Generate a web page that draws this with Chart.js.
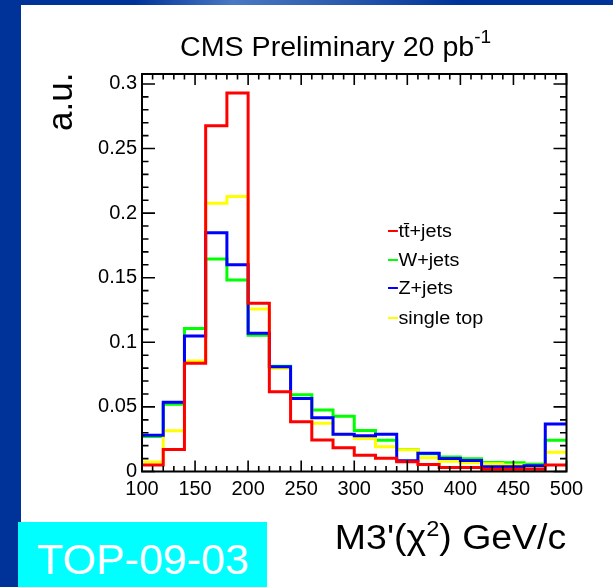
<!DOCTYPE html>
<html><head><meta charset="utf-8">
<script src="https://cdn.jsdelivr.net/npm/chart.js@4"></script>
<style>
html,body{margin:0;padding:0;background:#fff;}
#wrap{position:relative;width:613px;height:587px;overflow:hidden;background:#fff;font-family:"Liberation Sans",Arial,Helvetica,sans-serif;color:#000;}
#lbar{position:absolute;left:0;top:0;width:21px;height:587px;background:#003399;}
#tbar{position:absolute;left:0;top:0;width:613px;height:5px;background:linear-gradient(to right,#003399 0%,#003399 22%,#4a78c4 38%,#2d5cae 55%,#003399 75%,#003399 100%);}
#cwrap{position:absolute;left:0;top:0;width:613px;height:587px;}
.t{position:absolute;white-space:nowrap;line-height:1;}
.leg{position:absolute;left:388px;font-size:18px;white-space:nowrap;line-height:1;transform:scaleX(1.1);transform-origin:0 0;}
.leg i{display:inline-block;width:8.5px;height:2.5px;vertical-align:middle;margin-right:1px;position:relative;top:-1px;}
#topbox{position:absolute;left:18px;top:522px;width:249px;height:65px;background:#00ffff;}
</style></head>
<body>
<div id="wrap">
  <div id="lbar"></div>
  <div id="tbar"></div>
  <div id="cwrap"><canvas id="cv"></canvas></div>
  <div class="t" id="title" style="left:180px;top:33.8px;font-size:27px;transform:scaleX(1.06);transform-origin:0 0;">CMS Preliminary 20 pb<span style="font-size:18px;position:relative;top:-13px;">-1</span></div>
  <div class="t" id="ytitle" style="left:42.4px;top:131.4px;font-size:35px;transform:rotate(-90deg);transform-origin:0 0;">a.u.</div>
  <div class="t" id="xtitle" style="right:47px;top:518.7px;font-size:35px;transform:scaleX(1.07);transform-origin:100% 0;">M3'(χ<span style="font-size:22px;position:relative;top:-13px;">2</span>) GeV/c</div>
  <div id="legend"></div>
  <div id="topbox"></div>
  <div class="t" style="left:37px;top:537.6px;font-size:43px;color:#fff;">TOP-09-03</div>
</div>
<script>
// ---- data ----
const binEdges = [100,120,140,160,180,200,220,240,260,280,300,320,340,360,380,400,420,440,460,480,500];
const ttJets    = [0.005,0.017,0.0838,0.2677,0.2930,0.1302,0.0617,0.0386,0.0244,0.0184,0.0125,0.0102,0.0076,0.0055,0.003,0.003,0.0017,0.0017,0.0017,0.005];
const wJets     = [0.027,0.052,0.1106,0.1645,0.1483,0.1054,0.0815,0.0595,0.0476,0.0427,0.0317,0.0241,0.017,0.0137,0.0112,0.0098,0.007,0.0068,0.0056,0.0241];
const zJets     = [0.028,0.0536,0.1049,0.1849,0.1601,0.107,0.081,0.0565,0.0417,0.0288,0.0277,0.0289,0.0084,0.0141,0.01,0.0086,0.0037,0.0037,0.0045,0.0368];
const singleTop = [0.0073,0.0315,0.0855,0.2076,0.2128,0.1258,0.080,0.0565,0.0373,0.0285,0.0255,0.0192,0.0169,0.0107,0.008,0.0067,0.006,0.005,0.0033,0.0149];
const seriesNames = ['tt\u0304+jets','W+jets','Z+jets','single top'];
const seriesColors = ['#ff0000','#00ff00','#0000ff','#ffff00'];
const xTicks = [100,150,200,250,300,350,400,450,500];
const yTicks = [0,0.05,0.1,0.15,0.2,0.25,0.3];
const yMax = 0.3077;

function pts(vals){
  const p = vals.map((v,i)=>({x:binEdges[i], y:v}));
  p.push({x:binEdges[binEdges.length-1], y:vals[vals.length-1]});
  return p;
}

const frameTicks = {
  id:'frameTicks',
  afterDatasetsDraw(chart){
    const {ctx, chartArea:a, scales:{x,y}} = chart;
    ctx.save();
    ctx.strokeStyle='#000';
    ctx.lineWidth=1.6;
    ctx.beginPath();
    const xt = x.ticks.map(t=>t.value);
    for(let i=0;i<xt.length;i++){
      const px = x.getPixelForValue(xt[i]);
      ctx.moveTo(px,a.bottom); ctx.lineTo(px,a.bottom-11);
      ctx.moveTo(px,a.top); ctx.lineTo(px,a.top+11);
      if(i<xt.length-1){
        for(let k=1;k<5;k++){
          const v = xt[i]+(xt[i+1]-xt[i])*k/5, q=x.getPixelForValue(v);
          ctx.moveTo(q,a.bottom); ctx.lineTo(q,a.bottom-5.5);
          ctx.moveTo(q,a.top); ctx.lineTo(q,a.top+5.5);
        }
      }
    }
    const yt = y.ticks.map(t=>t.value);
    const step = yt[1]-yt[0];
    for(let i=0;i<yt.length;i++){
      const py = y.getPixelForValue(yt[i]);
      ctx.moveTo(a.left,py); ctx.lineTo(a.left+13,py);
      ctx.moveTo(a.right,py); ctx.lineTo(a.right-13,py);
      for(let k=1;k<5;k++){
        const v = yt[i]+step*k/5;
        if(v>y.max) break;
        const q=y.getPixelForValue(v);
        ctx.moveTo(a.left,q); ctx.lineTo(a.left+6.5,q);
        ctx.moveTo(a.right,q); ctx.lineTo(a.right-6.5,q);
      }
    }
    ctx.stroke();
    ctx.lineWidth=2;
    ctx.strokeRect(a.left,a.top,a.width,a.height);
    ctx.restore();
  }
};

const allSeries=[ttJets,wJets,zJets,singleTop];
const drawOrder=[0,3,1,2];
const chart = new Chart(document.getElementById('cv'), {
  type:'line',
  data:{datasets: allSeries.map((s,i)=>({
    label:seriesNames[i], data:pts(s), borderColor:seriesColors[i], backgroundColor:seriesColors[i],
    borderWidth:3, stepped:'before', fill:false, pointRadius:0, pointHitRadius:0, order:drawOrder[i]
  }))},
  options:{
    responsive:true, maintainAspectRatio:false, animation:false, devicePixelRatio:1, events:[],
    layout:{padding:{left:0,right:46.5,top:74,bottom:0}},
    plugins:{legend:{display:false}, tooltip:{enabled:false}, title:{display:false}},
    scales:{
      x:{type:'linear', min:binEdges[0], max:binEdges[binEdges.length-1],
         grid:{display:false, drawTicks:false}, border:{display:false},
         ticks:{color:'#000', font:{family:'"Liberation Sans", Arial, sans-serif', size:20}, padding:6, maxRotation:0, autoSkip:false},
         afterBuildTicks(s){ s.ticks = xTicks.map(v=>({value:v})); },
         afterFit(s){ s.height = 115.5; }},
      y:{type:'linear', min:0, max:yMax,
         grid:{display:false, drawTicks:false}, border:{display:false},
         ticks:{color:'#000', font:{family:'"Liberation Sans", Arial, sans-serif', size:20}, padding:5,
                callback:(v)=>String(+Number(v).toFixed(2))},
         afterBuildTicks(s){ s.ticks = yTicks.map(v=>({value:v})); },
         afterFit(s){ s.width = 142; }}
    }
  },
  plugins:[frameTicks]
});

// legend (HTML text)
const legBase=[237.2,266,293.8,323.8];
const leg=document.getElementById('legend');
seriesNames.forEach((n,i)=>{
  const d=document.createElement('div');
  d.className='leg';
  d.style.top=(legBase[i]-0.8465*18)+'px';
  d.innerHTML='<i style="background:'+seriesColors[i]+'"></i>'+n;
  leg.appendChild(d);
});
</script>
</body></html>
